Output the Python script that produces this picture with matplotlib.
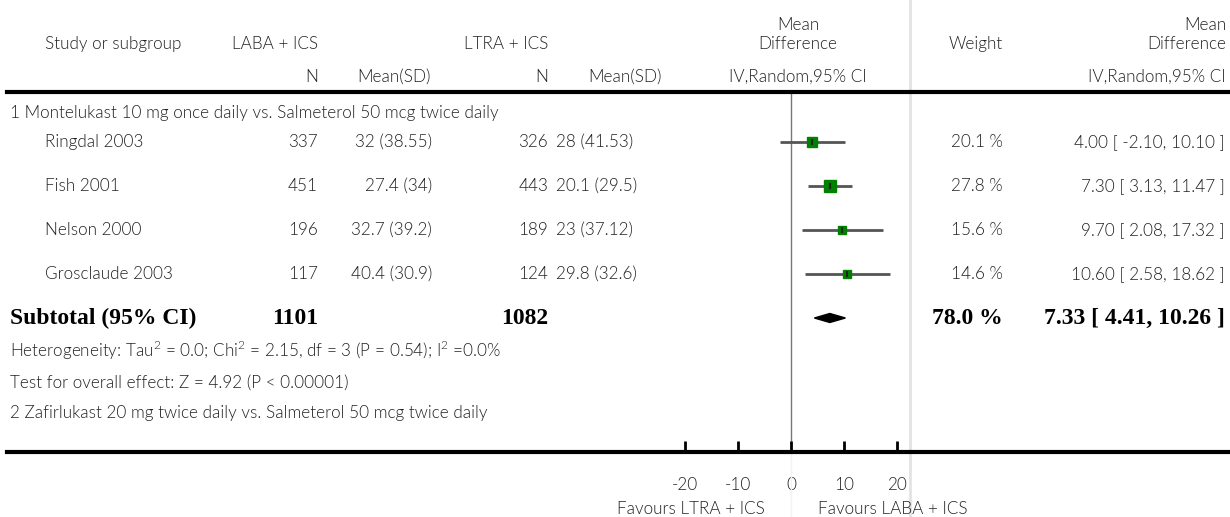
import numpy as np
import matplotlib
matplotlib.use("Agg")
import matplotlib.pyplot as plt
from matplotlib.lines import Line2D
from matplotlib.patches import Polygon

# data
studies = ["Ringdal 2003", "Fish 2001", "Nelson 2000", "Grosclaude 2003"]
n_laba = [337, 451, 196, 117]
mean_laba = [32, 27.4, 32.7, 40.4]
sd_laba = [38.55, 34, 39.2, 30.9]
n_ltra = [326, 443, 189, 124]
mean_ltra = [28, 20.1, 23, 29.8]
sd_ltra = [41.53, 29.5, 37.12, 32.6]
md = [4.00, 7.30, 9.70, 10.60]
ci_lo = [-2.10, 3.13, 2.08, 2.58]
ci_hi = [10.10, 11.47, 17.32, 18.62]
weight = [20.1, 27.8, 15.6, 14.6]

sub_n_laba, sub_n_ltra = 1101, 1082
sub_weight = 78.0
sub_md, sub_lo, sub_hi = 7.33, 4.41, 10.26

ticks = [-20, -10, 0, 10, 20]

plt.rcParams["mathtext.fontset"] = "custom"
plt.rcParams["mathtext.rm"] = "Lato:light"

W, H = 1230, 517
fig = plt.figure(figsize=(W / 100, H / 100), dpi=100)

TXT = "#222222"
sans = dict(family=["Lato", "DejaVu Sans"], weight=300, color=TXT, fontsize=12.3)
bold = dict(family=["Liberation Serif"], weight="bold", color="black", fontsize=17)


def fx(x):
    return x / W


def fy(y):
    return 1 - y / H


def txt(x, y, s, ha="left", style=sans):
    fig.text(fx(x), fy(y), s, ha=ha, va="center", **style)


# layout (pixel rows)
row_y = [142, 186, 230, 274]
sub_y = 318

# header
txt(45, 44, "Study or subgroup")
txt(318, 44, "LABA + ICS", "right")
txt(548, 44, "LTRA + ICS", "right")
txt(798, 25, "Mean", "center")
txt(798, 44, "Difference", "center")
txt(976, 44, "Weight", "center")
txt(1226, 25, "Mean", "right")
txt(1226, 44, "Difference", "right")
txt(318, 77, "N", "right")
txt(431, 77, "Mean(SD)", "right")
txt(548, 77, "N", "right")
txt(625, 77, "Mean(SD)", "center")
txt(798, 77, "IV,Random,95% CI", "center")
txt(1226, 77, "IV,Random,95% CI", "right")

txt(10, 113, "1 Montelukast 10 mg once daily vs. Salmeterol 50 mcg twice daily")

for i, name in enumerate(studies):
    y = row_y[i]
    txt(45, y, name)
    txt(318, y, f"{n_laba[i]}", "right")
    txt(432, y, f"{mean_laba[i]:g} ({sd_laba[i]:g})", "right")
    txt(548, y, f"{n_ltra[i]}", "right")
    txt(556, y, f"{mean_ltra[i]:g} ({sd_ltra[i]:g})")
    txt(1003, y, f"{weight[i]:.1f} %", "right")
    txt(1225, y, f"{md[i]:.2f} [ {ci_lo[i]:.2f}, {ci_hi[i]:.2f} ]", "right")

txt(10, sub_y, "Subtotal (95% CI)", style=bold)
txt(318, sub_y, f"{sub_n_laba}", "right", bold)
txt(548, sub_y, f"{sub_n_ltra}", "right", bold)
txt(1003, sub_y, f"{sub_weight:.1f} %", "right", bold)
txt(1225, sub_y, f"{sub_md:.2f} [ {sub_lo:.2f}, {sub_hi:.2f} ]", "right", bold)

sq = r"$^{\mathregular{2}}$"
txt(10, 350, f"Heterogeneity: Tau{sq} = 0.0; Chi{sq} = 2.15, df = 3 (P = 0.54); I{sq} =0.0%")
txt(10, 383, "Test for overall effect: Z = 4.92 (P < 0.00001)")
txt(10, 413, "2 Zafirlukast 20 mg twice daily vs. Salmeterol 50 mcg twice daily")

txt(765, 509, "Favours LTRA + ICS", "right")
txt(818, 509, "Favours LABA + ICS")

# separator lines
fig.add_artist(Line2D([fx(910), fx(910)], [0, 1], color="#e3e3e3", lw=2))
fig.add_artist(Line2D([fx(791), fx(791)], [0, fy(452)], color="#f2f2f2", lw=1))
fig.add_artist(Line2D([fx(7), 1], [fy(92), fy(92)], color="black", lw=3))
fig.add_artist(Line2D([fx(7), 1], [fy(452), fy(452)], color="black", lw=3))

# forest panel
ax = fig.add_axes([fx(685), fy(452), fx(897 - 685), (452 - 92) / H])
ax.set_xlim(-20, 20)
ax.set_ylim(452, 92)
ax.patch.set_visible(False)
for s in ax.spines.values():
    s.set_visible(False)
ax.set_yticks([])
ax.set_xticks(ticks)
ax.set_xticklabels([f"{t}" for t in ticks], **sans)
ax.tick_params(axis="x", direction="in", length=8, width=2, color="black", pad=18)

ax.axvline(0, color="#777777", lw=1, zorder=1)

for i in range(len(studies)):
    y = row_y[i]
    ax.plot([ci_lo[i], ci_hi[i]], [y, y], color="#555555", lw=2, zorder=2,
            solid_capstyle="butt", clip_on=False)
    ax.plot(md[i], y, marker="s", ms=np.sqrt(weight[i]) * 1.6, color="#008000",
            mec="#008000", zorder=3, clip_on=False)
    ax.plot(md[i], y, marker="|", ms=5, mew=1.5, color="#222222", zorder=4)

dh = 4.5
ax.add_patch(Polygon([(sub_lo, sub_y), (sub_md, sub_y - dh), (sub_hi, sub_y),
                      (sub_md, sub_y + dh)], closed=True, color="black", zorder=3))

fig.savefig("out.png", dpi=100)
